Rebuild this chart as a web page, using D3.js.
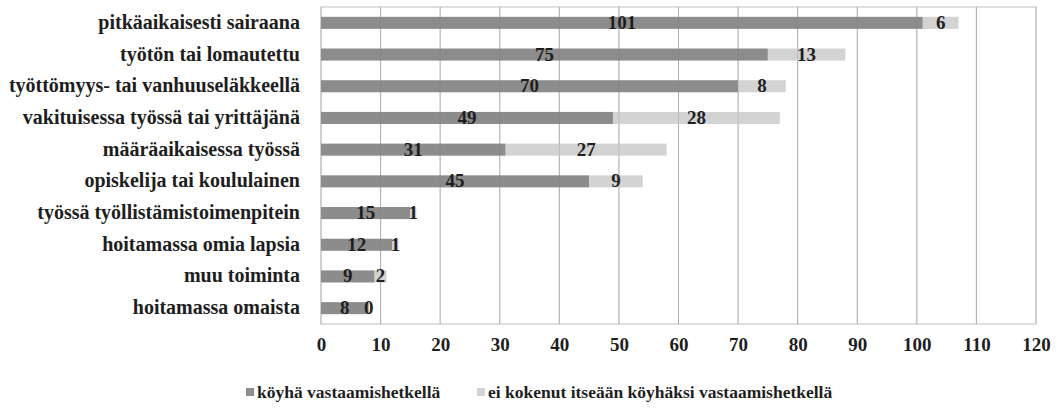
<!DOCTYPE html>
<html>
<head>
<meta charset="utf-8">
<script src="https://cdn.jsdelivr.net/npm/d3@7"></script>
<style>
  html, body { margin: 0; padding: 0; background: #fff; }
  svg text { font-family: "Liberation Serif", "DejaVu Serif", serif; font-weight: bold; fill: #1e1e1e; }
</style>
</head>
<body>
<svg id="chart" width="1059" height="409"></svg>
<script>
// Categories, top to bottom
const categories = [
  "pitkäaikaisesti sairaana",
  "työtön tai lomautettu",
  "työttömyys- tai vanhuuseläkkeellä",
  "vakituisessa työssä tai yrittäjänä",
  "määräaikaisessa työssä",
  "opiskelija tai koululainen",
  "työssä työllistämistoimenpitein",
  "hoitamassa omia lapsia",
  "muu toiminta",
  "hoitamassa omaista"
];
// Series values
const poor = [101, 75, 70, 49, 31, 45, 15, 12, 9, 8];
const notPoor = [6, 13, 8, 28, 27, 9, 1, 1, 2, 0];
const seriesNames = ["köyhä vastaamishetkellä", "ei kokenut itseään köyhäksi vastaamishetkellä"];
const seriesColors = ["#8c8c8c", "#d3d3d3"];
const xTicks = [0, 10, 20, 30, 40, 50, 60, 70, 80, 90, 100, 110, 120];

const svg = d3.select("#chart");
const margin = { left: 321, right: 23, top: 7, bottom: 85 };
const W = 1059, H = 409;

const x = d3.scaleLinear().domain([0, 120]).range([margin.left, W - margin.right]);
const y = d3.scaleBand().domain(categories).range([margin.top, H - margin.bottom]).paddingInner(0.62).paddingOuter(0.31);

// Vertical gridlines
svg.append("g").selectAll("line").data(xTicks).join("line")
  .attr("x1", d => x(d)).attr("x2", d => x(d))
  .attr("y1", margin.top).attr("y2", H - margin.bottom)
  .attr("stroke", "#bfbfbf").attr("stroke-width", 1);

// Plot frame
svg.append("rect")
  .attr("x", x(0)).attr("y", margin.top)
  .attr("width", x(120) - x(0)).attr("height", H - margin.bottom - margin.top)
  .attr("fill", "none").attr("stroke", "#bfbfbf");

const rows = categories.map((c, i) => ({ c, a: poor[i], b: notPoor[i] }));

// Stacked bars
const g = svg.append("g");
g.selectAll("rect.a").data(rows).join("rect").attr("class", "a")
  .attr("x", x(0)).attr("y", d => y(d.c))
  .attr("width", d => x(d.a) - x(0)).attr("height", y.bandwidth())
  .attr("fill", seriesColors[0]);
g.selectAll("rect.b").data(rows).join("rect").attr("class", "b")
  .attr("x", d => x(d.a)).attr("y", d => y(d.c))
  .attr("width", d => x(d.a + d.b) - x(d.a)).attr("height", y.bandwidth())
  .attr("fill", seriesColors[1]);

// Gridlines faintly visible over bars
svg.append("g").selectAll("line").data(xTicks.slice(1, -1)).join("line")
  .attr("x1", d => x(d)).attr("x2", d => x(d))
  .attr("y1", margin.top).attr("y2", H - margin.bottom)
  .attr("stroke", "#7a7a7a").attr("stroke-opacity", 0.25).attr("stroke-width", 1);

// Value labels centred on each segment
const fs = 19;
g.selectAll("text.va").data(rows).join("text").attr("class", "va")
  .attr("x", d => x(d.a / 2)).attr("y", d => y(d.c) + y.bandwidth() / 2 + 6)
  .attr("text-anchor", "middle").attr("font-size", fs).text(d => d.a);
g.selectAll("text.vb").data(rows).join("text").attr("class", "vb")
  .attr("x", d => x(d.a + d.b / 2)).attr("y", d => y(d.c) + y.bandwidth() / 2 + 6)
  .attr("text-anchor", "middle").attr("font-size", fs).text(d => d.b);

// Category axis labels
svg.append("g").selectAll("text").data(categories).join("text")
  .attr("x", 300).attr("y", d => y(d) + y.bandwidth() / 2 + 6)
  .attr("text-anchor", "end").attr("font-size", 20).text(d => d);

// X axis tick labels
const xAxis = d3.axisBottom(x).tickValues(xTicks).tickSize(0).tickPadding(0);
const ax = svg.append("g").attr("transform", `translate(0, ${H - margin.bottom + 13})`).call(xAxis);
ax.select(".domain").remove();
ax.selectAll("text").attr("font-size", fs).attr("dy", "0.71em")
  .style("font-family", '"Liberation Serif", "DejaVu Serif", serif').style("font-weight", "bold").attr("fill", "#1e1e1e");

// Legend
const legend = svg.append("g");
const legendX = [246, 477];
seriesNames.forEach((name, i) => {
  legend.append("rect").attr("x", legendX[i]).attr("y", 388).attr("width", 8).attr("height", 8).attr("fill", seriesColors[i]);
  legend.append("text").attr("x", legendX[i] + 11).attr("y", 398).attr("font-size", 17.5).text(name);
});
</script>
</body>
</html>
